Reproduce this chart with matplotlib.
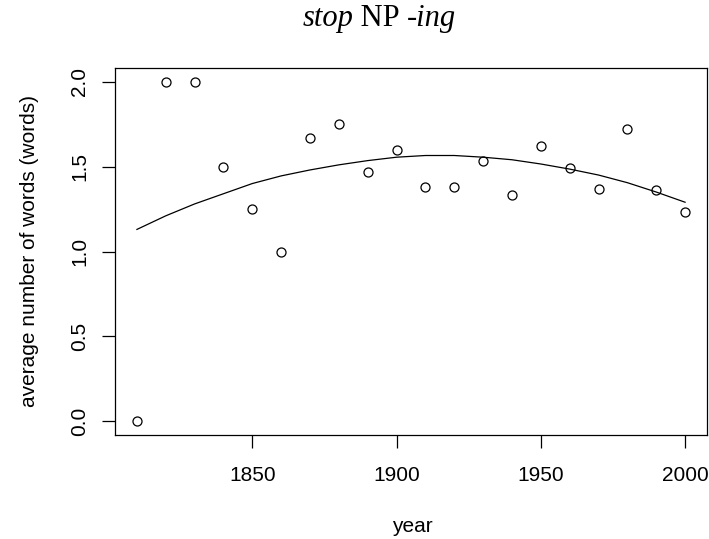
import matplotlib
matplotlib.use("Agg")
import matplotlib.pyplot as plt

# data
years = [1810, 1820, 1830, 1840, 1850, 1860, 1870, 1880, 1890, 1900,
         1910, 1920, 1930, 1940, 1950, 1960, 1970, 1980, 1990, 2000]
avg_words = [0.0, 2.0, 2.0, 1.5, 1.25, 1.0, 1.67, 1.75, 1.47, 1.6,
             1.38, 1.38, 1.53, 1.33, 1.62, 1.49, 1.37, 1.72, 1.36, 1.23]
# fitted trend curve as drawn
fit_years = [1810, 1820, 1830, 1840, 1850, 1860, 1870, 1880, 1890, 1900,
             1910, 1920, 1930, 1940, 1950, 1960, 1970, 1980, 1990, 2000]
fit_vals = [1.13, 1.21, 1.28, 1.34, 1.40, 1.445, 1.48, 1.51, 1.535, 1.555,
            1.565, 1.565, 1.555, 1.54, 1.515, 1.485, 1.45, 1.405, 1.35, 1.29]

plt.rcParams['font.family'] = ['Liberation Sans', 'DejaVu Sans']

W, H = 709, 539
fig = plt.figure(figsize=(W / 100, H / 100), dpi=100)
# plot box in pixels: left 115, right 707, top 68, bottom 435
ax = fig.add_axes([115 / W, 1 - 435 / H, (707 - 115) / W, (435 - 68) / H])

ax.plot(fit_years, fit_vals, color="black", lw=0.9)
ax.plot(years, avg_words, "o", mfc="none", mec="black", ms=6.5, mew=0.9)

ax.set_xlim(1810 - 0.04 * 190, 2000 + 0.04 * 190)
ax.set_ylim(-0.08, 2.08)
ax.set_xticks([1850, 1900, 1950, 2000])
ax.set_yticks([0.0, 0.5, 1.0, 1.5, 2.0])
ax.set_yticklabels(["0.0", "0.5", "1.0", "1.5", "2.0"], rotation=90, va="center")
ax.tick_params(direction="out", length=9.4, width=0.9, labelsize=15, colors="black")
ax.tick_params(axis="x", pad=13)
ax.tick_params(axis="y", pad=9)
for s in ax.spines.values():
    s.set_linewidth(0.9)

fig.text(412 / W, 7 / H, "year", fontsize=15, ha="center", va="baseline")
fig.text(30 / W, 1 - 251 / H, "average number of words (words)", fontsize=15,
         rotation=90, ha="center", va="center")

# title with mixed italic/roman pieces
fig.canvas.draw()
r = fig.canvas.get_renderer()
parts = [("stop", "italic"), (" NP ", "normal"), ("-ing", "italic")]
tmp = []
for s, st in parts:
    t = fig.text(0, 0, s, family="Liberation Serif", style=st, fontsize=22)
    tmp.append(t)
widths = [t.get_window_extent(r).width for t in tmp]
for t in tmp:
    t.remove()
x0 = 379 - sum(widths) / 2
for (s, st), w in zip(parts, widths):
    fig.text(x0 / W, 1 - 26 / H, s, family="Liberation Serif", style=st, fontsize=22,
             ha="left", va="baseline")
    x0 += w

fig.savefig("out.png", dpi=100)
